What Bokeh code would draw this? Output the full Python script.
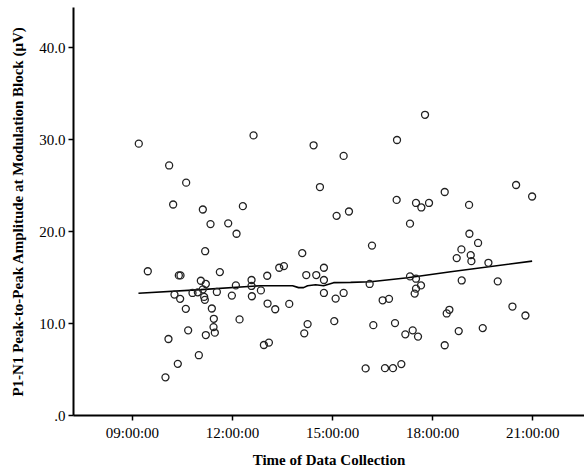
from bokeh.plotting import figure
from bokeh.models import Range1d, FixedTicker, ColumnDataSource
from bokeh.embed import file_html
from bokeh.resources import INLINE

# Time of data collection (hours of day) and P1-N1 amplitude (µV)
time_h = [9.19, 12.63, 10.10, 10.61, 10.22, 11.11, 12.31, 11.34, 11.87, 12.12,
          11.18, 14.43, 16.93, 15.33, 14.62, 16.92, 15.12, 15.49, 16.18, 17.32,
          17.77, 18.36, 17.50, 17.66, 17.89, 19.09, 20.50, 20.98, 19.10, 19.36,
          18.86, 9.46, 10.39, 10.44, 11.62, 11.05, 11.20, 13.04, 12.10, 12.57,
          12.57, 10.26, 10.43, 10.80, 10.96, 11.11, 11.15, 11.17, 11.53, 11.98,
          12.58, 12.85, 13.05, 10.60, 11.38, 11.44, 12.21, 11.43, 11.47, 11.20,
          10.67, 10.08, 10.99, 10.36, 9.99, 12.94, 13.09, 14.09, 13.40, 13.54,
          14.21, 14.51, 14.74, 14.74, 16.11, 17.32, 14.74, 15.33, 15.09, 13.28,
          13.70, 16.50, 16.69, 15.05, 14.25, 14.15, 16.22, 16.87, 17.18, 15.99,
          16.57, 16.81, 17.06, 19.14, 19.16, 18.72, 19.67, 17.50, 17.65, 17.50,
          17.46, 18.87, 19.95, 18.50, 18.42, 20.39, 20.78, 17.40, 17.56, 18.78,
          19.50, 18.36]
amplitude = [29.57, 30.47, 27.20, 25.33, 22.95, 22.41, 22.77, 20.82, 20.90, 19.77,
             17.87, 29.39, 29.97, 28.24, 24.85, 23.45, 21.72, 22.19, 18.48, 20.87,
             32.71, 24.31, 23.12, 22.63, 23.12, 22.91, 25.07, 23.82, 19.77, 18.77,
             18.07, 15.69, 15.24, 15.24, 15.60, 14.66, 14.31, 15.20, 14.15, 14.74,
             14.09, 13.15, 12.69, 13.33, 13.40, 13.72, 12.90, 12.58, 13.44, 13.04,
             12.97, 13.61, 12.18, 11.60, 11.64, 10.52, 10.45, 9.62, 9.01, 8.75,
             9.26, 8.32, 6.56, 5.62, 4.15, 7.67, 7.93, 17.66, 16.07, 16.25,
             15.28, 15.28, 16.07, 14.74, 14.31, 15.13, 13.33, 13.33, 12.72, 11.56,
             12.14, 12.53, 12.69, 10.26, 9.94, 8.94, 9.83, 10.05, 8.83, 5.12,
             5.15, 5.15, 5.59, 17.44, 16.79, 17.12, 16.61, 14.88, 14.15, 13.80,
             13.26, 14.69, 14.59, 11.50, 11.10, 11.85, 10.88, 9.26, 8.58, 9.18,
             9.51, 7.64]

# Fit line
fit_time = [9.18, 11.05, 12.84, 13.80, 13.98, 14.13, 14.25, 14.49, 14.73, 15.03,
            15.54, 16.14, 17.25, 18.54, 20.98]
fit_amp = [13.29, 13.69, 14.12, 14.12, 13.91, 13.91, 14.12, 14.23, 14.12, 14.45,
           14.48, 14.55, 14.99, 15.63, 16.79]

x_ticks = [9, 12, 15, 18, 21]
x_tick_labels = ["09:00:00", "12:00:00", "15:00:00", "18:00:00", "21:00:00"]
y_ticks = [0, 10, 20, 30, 40]
y_tick_labels = [".0", "10.0", "20.0", "30.0", "40.0"]

p = figure(width=584, height=470, output_backend="svg", toolbar_location=None,
           x_range=Range1d(7.233, 22.55), y_range=Range1d(0, 44.38),
           min_border_left=73, min_border_right=0, min_border_top=7,
           min_border_bottom=52)
p.outline_line_color = None
p.xgrid.visible = False
p.ygrid.visible = False
p.background_fill_color = "white"
p.border_fill_color = "white"

src = ColumnDataSource(dict(x=time_h, y=amplitude))
p.line(fit_time, fit_amp, line_color="black", line_width=1.6)
p.scatter("x", "y", source=src, marker="circle", size=7, fill_color=None,
          line_color="#222222", line_width=1.3)

font = "Liberation Serif"
p.xaxis.ticker = FixedTicker(ticks=x_ticks)
p.xaxis.major_label_overrides = {t: l for t, l in zip(x_ticks, x_tick_labels)}
p.yaxis.ticker = FixedTicker(ticks=y_ticks)
p.yaxis.major_label_overrides = {t: l for t, l in zip(y_ticks, y_tick_labels)}
p.xaxis.axis_label = "Time of Data Collection"
p.yaxis.axis_label = "P1-N1 Peak-to-Peak Amplitude at Modulation Block (\u03bcV)"

for ax in (p.xaxis[0], p.yaxis[0]):
    ax.axis_line_width = 2
    ax.axis_line_color = "black"
    ax.major_tick_line_width = 1.5
    ax.major_tick_line_color = "black"
    ax.major_tick_out = 5
    ax.major_tick_in = 0
    ax.minor_tick_line_color = None
    ax.major_label_text_font = font
    ax.major_label_text_font_size = "15px"
    ax.major_label_text_color = "black"
    ax.axis_label_text_font = font
    ax.axis_label_text_font_size = "15px"
    ax.axis_label_text_font_style = "bold"
    ax.axis_label_text_color = "black"

p.xaxis.major_label_standoff = 4
p.xaxis.axis_label_standoff = 8
p.yaxis.major_label_standoff = 3
p.yaxis.axis_label_standoff = 10

open("out.html", "w").write(file_html(p, INLINE))
